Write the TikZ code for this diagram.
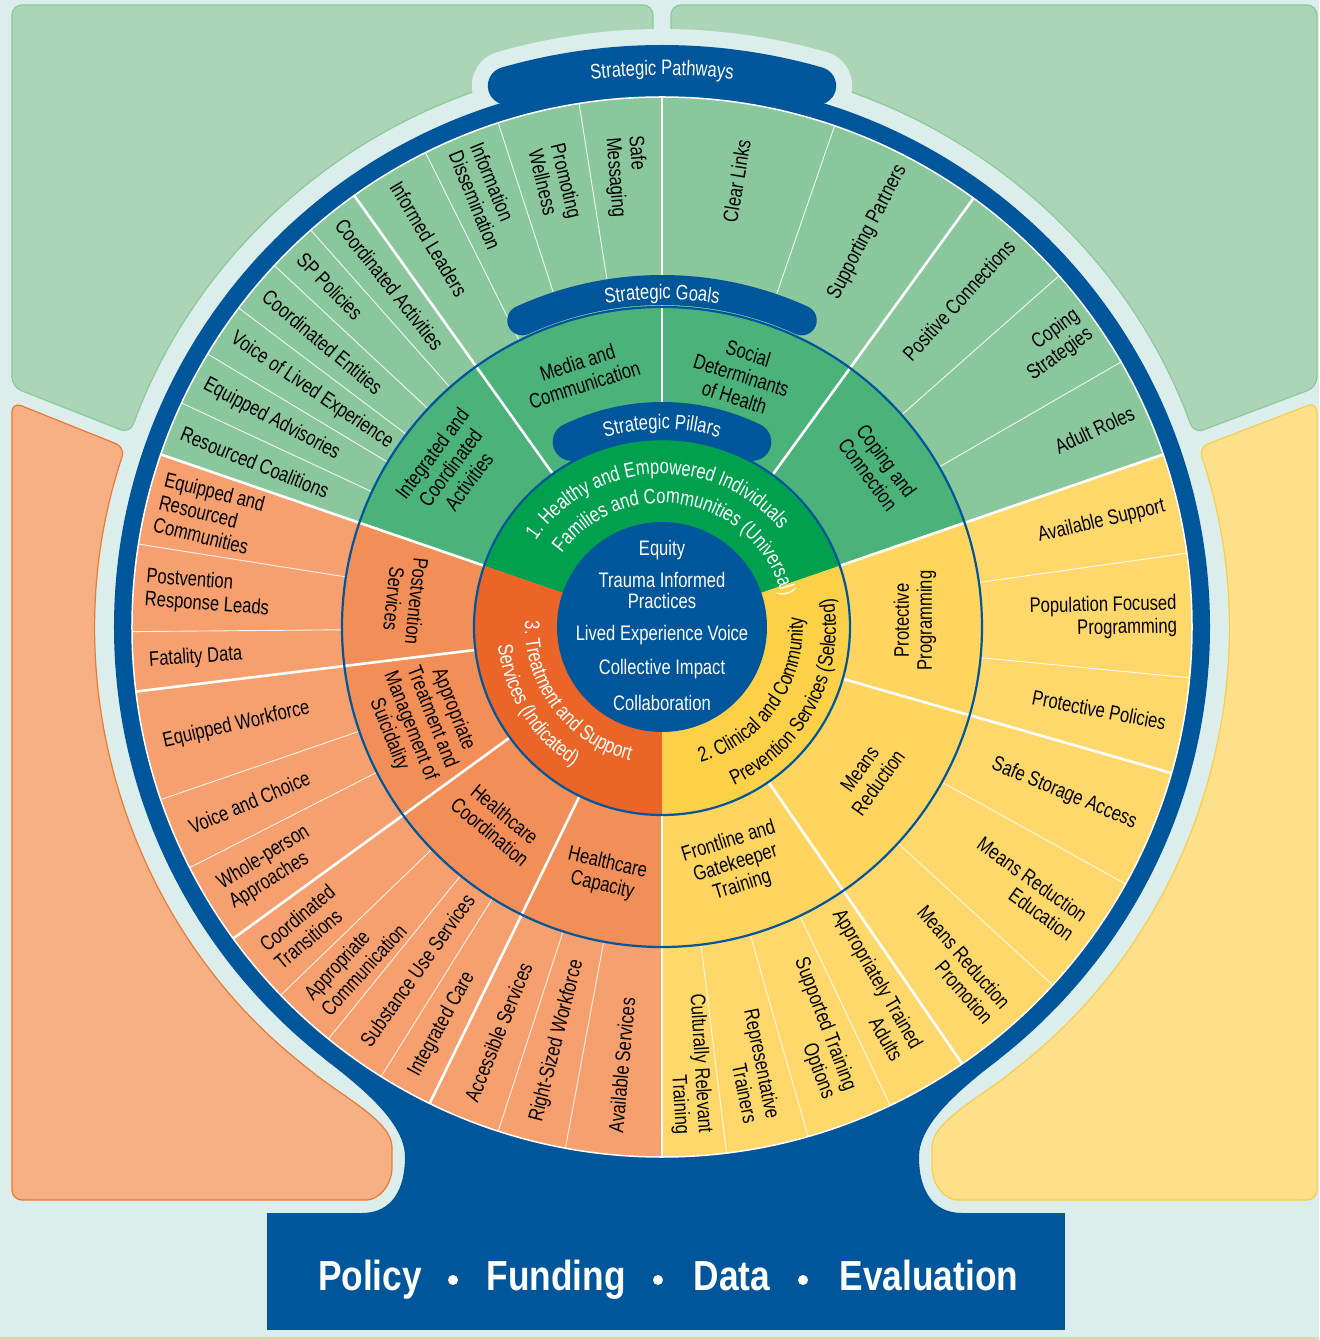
\documentclass[tikz,border=0pt]{standalone}
\usepackage{fontspec}
\setmainfont{Liberation Sans}[FakeStretch=0.79]
\newfontfamily\bannerfont{Liberation Sans}[FakeStretch=0.84]
\usetikzlibrary{decorations.text}
\definecolor{bgblue}{HTML}{DCEEEC}
\definecolor{navy}{HTML}{00569B}
\definecolor{panelgreen}{HTML}{ABD5B6}
\definecolor{panelgreenline}{HTML}{8DC89E}
\definecolor{panelorange}{HTML}{F6B084}
\definecolor{panelorangeline}{HTML}{EC7A33}
\definecolor{panelyellow}{HTML}{FEDF8A}
\definecolor{panelyellowline}{HTML}{F8CF4D}
\definecolor{pathgreen}{HTML}{8BC79C}
\definecolor{goalgreen}{HTML}{4BB27A}
\definecolor{pillargreen}{HTML}{00A04F}
\definecolor{pathorange}{HTML}{F5A06E}
\definecolor{goalorange}{HTML}{F28F58}
\definecolor{pillarorange}{HTML}{EA6527}
\definecolor{pathyellow}{HTML}{FFD86C}
\definecolor{goalyellow}{HTML}{FFD45F}
\definecolor{pillaryellow}{HTML}{FDD147}
\definecolor{floorline}{HTML}{E0D3B0}
\newcommand\labfont{\fontsize{21}{23}\selectfont}
\newcommand\corefont{\fontsize{21}{21}\selectfont}

\begin{document}
\begin{tikzpicture}[x=1pt,y=1pt]
\tikzset{
  panel/.style={rounded corners=10pt, line width=1.2pt},
  septhick/.style={white, line width=2.6pt},
  septhin/.style={white, opacity=0.85, line width=0.9pt},
  ringline/.style={navy, line width=2.2pt},
  tab/.style={navy, line width=#1, line cap=round},
  leftlab/.style={font=\labfont, inner sep=0pt, anchor=west, align=left},
  rightlab/.style={font=\labfont, inner sep=0pt, anchor=east, align=right},
  goallab/.style={font=\labfont, inner sep=0pt, align=center},
  corelab/.style={font=\corefont, text=white, align=center, inner sep=0pt},
  banword/.style={font=\fontsize{42}{46}\bannerfont\bfseries, text=white, anchor=base, inner sep=0pt},
  bandot/.style={circle, fill=white, inner sep=0pt, minimum size=10pt},
}
\useasboundingbox (-662,-713) rectangle (657,627);
\fill[bgblue] (-662,-713) rectangle (657,627);
\fill[floorline] (-662,-713) rectangle (657,-710);

\filldraw[panel, fill=panelgreen, draw=panelgreenline] (-9,622) -- (-9,565.9) arc[start angle=90.9, end angle=160, radius=566] -- (-650,240) -- (-650,622) -- cycle;
\filldraw[panel, fill=panelgreen, draw=panelgreenline] (9,622) -- (9,565.9) arc[start angle=89.1, end angle=20, radius=566] -- (655,240) -- (655,622) -- cycle;
\filldraw[panel, fill=panelorange, draw=panelorangeline] (-650,225) -- (161.5:566) arc[start angle=161.5, end angle=231, radius=566] .. controls (-317,-471) and (-270,-495) .. (-270,-530) .. controls (-270,-560) and (-285,-573) .. (-305,-573) -- (-650,-573) -- cycle;
\filldraw[panel, fill=panelyellow, draw=panelyellowline] (655,225) -- (18.5:566) arc[start angle=18.5, end angle=-51, radius=566] .. controls (317,-471) and (270,-495) .. (270,-530) .. controls (270,-560) and (285,-573) .. (305,-573) -- (655,-573) -- cycle;

\draw[bgblue, line width=70pt, line cap=round] (106:563) arc[start angle=106, end angle=74, radius=563];
\fill[navy] (232:548) .. controls (-302,-459.5) and (-257,-495) .. (-257,-530) .. controls (-257,-562) and (-270,-586) .. (-300,-586) -- (300,-586) .. controls (270,-586) and (257,-562) .. (257,-530) .. controls (257,-495) and (302,-459.5) .. (-52:548) -- cycle;
\fill[navy] (0,0) circle[radius=548];
\fill[navy] (-395,-586) rectangle (403,-703);

\fill[pathgreen] (0,0) -- (19:530) arc[start angle=19, end angle=161, radius=530] -- cycle;
\fill[pathorange] (0,0) -- (161:530) arc[start angle=161, end angle=270, radius=530] -- cycle;
\fill[pathyellow] (0,0) -- (-90:530) arc[start angle=-90, end angle=19, radius=530] -- cycle;
\draw[white, line width=1.5pt] (0,0) circle[radius=530];
\fill[goalgreen] (0,0) -- (19:320) arc[start angle=19, end angle=161, radius=320] -- cycle;
\fill[goalorange] (0,0) -- (161:320) arc[start angle=161, end angle=270, radius=320] -- cycle;
\fill[goalyellow] (0,0) -- (-90:320) arc[start angle=-90, end angle=19, radius=320] -- cycle;
\fill[pillargreen] (0,0) -- (19:188) arc[start angle=19, end angle=161, radius=188] -- cycle;
\fill[pillarorange] (0,0) -- (161:188) arc[start angle=161, end angle=270, radius=188] -- cycle;
\fill[pillaryellow] (0,0) -- (-90:188) arc[start angle=-90, end angle=19, radius=188] -- cycle;
\fill[navy] (0,0) circle[radius=105];

\foreach \a in {155,149,143,137,131.5,116.5,108,99,71,41.5,30,8,-5.5,-29,-42.5,-64.5,-74,-83,171,180.5,199,207,224,231,238,252,259.5}
  \draw[septhin] (\a:320) -- (\a:530);
\foreach \a in {19,54,90,125.5,161,187,216,244,270,-55.5,-16}
  \draw[septhick] (\a:188) -- (\a:530);
\draw[ringline] (0,0) circle[radius=188];
\draw[ringline] (0,0) circle[radius=320];

\draw[tab=38pt] (106:563) arc[start angle=106, end angle=74, radius=563];
\draw[tab=30pt] (114.5:337) arc[start angle=114.5, end angle=65.5, radius=337];
\draw[tab=38pt] (116:206) arc[start angle=116, end angle=64, radius=206];
\path[decorate, decoration={text along path, text align=center, text={|\labfont\color{white}|Strategic Pathways}}] (100:552) arc[start angle=100, end angle=80, radius=552];
\path[decorate, decoration={text along path, text align=center, text={|\labfont\color{white}|Strategic Goals}}] (112:328) arc[start angle=112, end angle=68, radius=328];
\path[decorate, decoration={text along path, text align=center, text={|\labfont\color{white}|Strategic Pillars}}] (118:198) arc[start angle=118, end angle=62, radius=198];

\foreach \a/\r/\txt [count=\i] in {158/518/Resourced Coalitions, 152/518/Equipped Advisories, 146/518/Voice of Lived Experience, 140/518/Coordinated Entities, 134.25/518/SP Policies, 128.5/518/Coordinated Activities, 121/518/Informed Leaders, 112.25/518/{Information\\Dissemination}, 103.5/494/{Promoting\\Wellness}, 94.5/492/{Safe\\Messaging}, 166/518/{Equipped and\\Resourced\\Communities}, 175.75/518/{Postvention\\Response Leads}, 183.75/514/Fatality Data, 193/512/Equipped Workforce, 203/513/Voice and Choice, 211.5/512/{Whole-person\\Approaches}, 220/512/{Coordinated\\Transitions}, 227.5/512/{Appropriate\\Communication}, 234.5/512/Substance Use Services, 241/512/Integrated Care, 248/511/Accessible Services, 255.75/510/Right-Sized Workforce, 264.75/508/Available Services}
  \node[leftlab, rotate=\a-180] (way\i) at (\a:\r) {\txt};
\foreach \a/\r/\txt [count=\i] in {80.5/494/Clear Links, 62.5/519/Supporting Partners, 47.75/519/Positive Connections, 35.75/520/{Coping\\Strategies}, 24.5/518/Adult Roles, 13.5/517/Available Support, 1.25/515/{Population Focused\\Programming}, -10.75/513/Protective Policies, -22.5/513/Safe Storage Access, -35.75/513/{Means Reduction\\Education}, -49/512/{Means Reduction\\Promotion}, -60/492/{Appropriately Trained\\Adults}, -69.25/500/{Supported Training\\Options}, -78.5/504/{Representative\\Trainers}, -86.5/508/{Culturally Relevant\\Training}}
  \node[rightlab, rotate=\a] (route\i) at (\a:\r) {\txt};

\foreach \a/\r/\rot/\txt [count=\i] in {143/265/53/{Integrated and\\Coordinated\\Activities}, 107.75/266/17.75/{Media and\\Communication}, 72.5/264/-17.5/{Social\\Determinants\\of Health}, 36.5/268/-53.5/{Coping and\\Connection}, 1.5/253/90/{Protective\\Programming}, -35.75/255/54.25/{Means\\Reduction}, -72.75/248/17.25/{Frontline and\\Gatekeeper\\Training}, 257/254/-13/{Healthcare\\Capacity}, 230/256/-40/{Healthcare\\Coordination}, 201.5/259/-68.5/{Appropriate\\Treatment and\\Management of\\Suicidality}, 174/258/-96/{Postvention\\Services}}
  \node[goallab, rotate=\rot] (goal\i) at (\a:\r) {\txt};

\path[decorate, decoration={text along path, text align=center, text={|\labfont\color{white}|1. Healthy and Empowered Individuals}}] (167.5:153) arc[start angle=167.5, end angle=17.5, radius=153];
\path[decorate, decoration={text along path, text align=center, text={|\labfont\color{white}|Families and Communities (Universal)}}] (169:124) arc[start angle=169, end angle=-11, radius=124];
\path[decorate, decoration={text along path, text align=center, text={|\labfont\color{black}|2. Clinical and Community}}] (-95:141) arc[start angle=-95, end angle=25, radius=141];
\path[decorate, decoration={text along path, text align=center, text={|\labfont\color{black}|Prevention Services (Selected)}}] (-98:174) arc[start angle=-98, end angle=42, radius=174];
\path[decorate, decoration={text along path, text align=center, text={|\labfont\color{white}|3. Treatment and Support}}] (157:137) arc[start angle=157, end angle=277, radius=137];
\path[decorate, decoration={text along path, text align=center, text={|\labfont\color{white}|Services (Indicated)}}] (152:165) arc[start angle=152, end angle=272, radius=165];

\node[corelab] (equity) at (0,77) {Equity};
\node[corelab] (trauma) at (0,37) {Trauma Informed\\Practices};
\node[corelab] (lived) at (0,-8) {Lived Experience Voice};
\node[corelab] (impact) at (0,-42) {Collective Impact};
\node[corelab] (collab) at (0,-76) {Collaboration};

\node[banword] (policy) at (-292,-663) {Policy};
\node[bandot] (dot1) at (-209,-653) {};
\node[banword] (funding) at (-106,-663) {Funding};
\node[bandot] (dot2) at (-4,-653) {};
\node[banword] (data) at (70,-663) {Data};
\node[bandot] (dot3) at (141,-653) {};
\node[banword] (evaluation) at (267,-663) {Evaluation};
\end{tikzpicture}
\end{document}
